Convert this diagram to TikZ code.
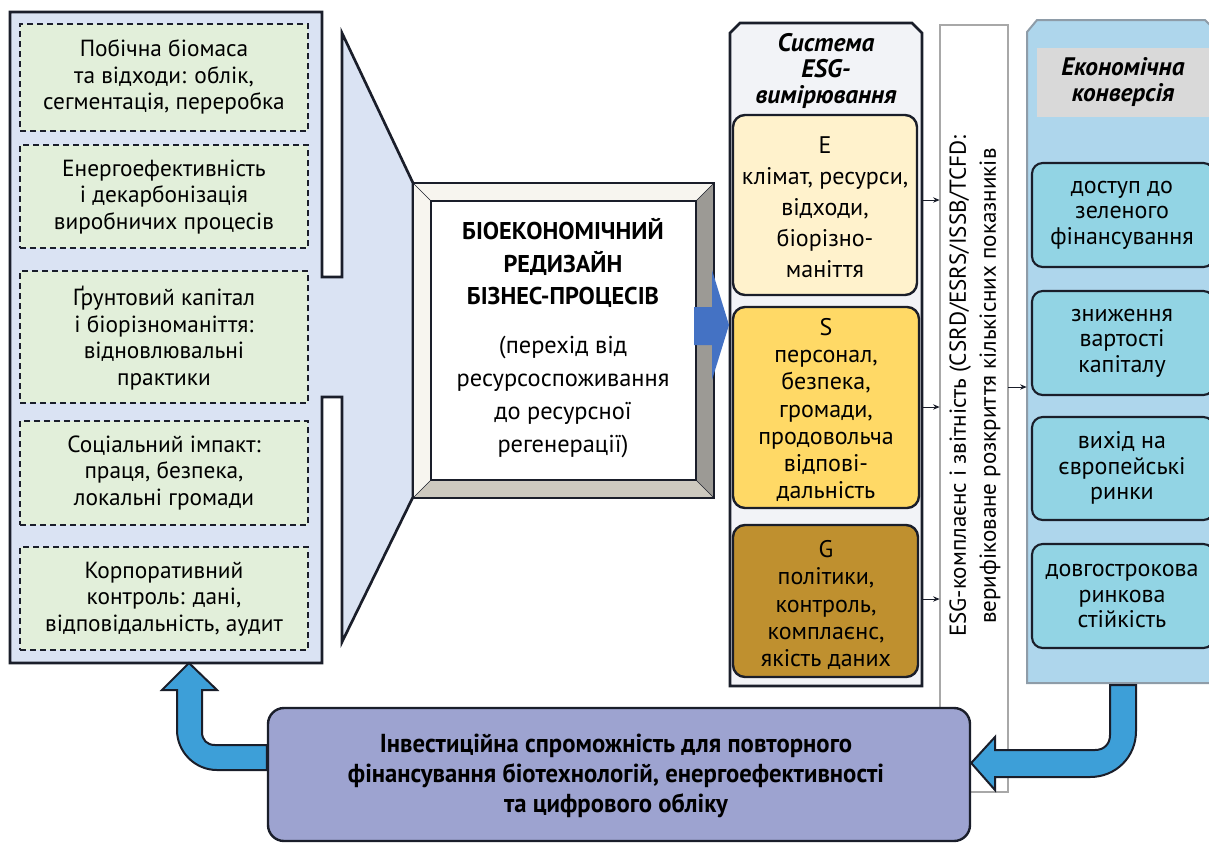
\documentclass[tikz,border=0pt]{standalone}
\usepackage{fontspec}
\setmainfont{PT Sans}
\newfontfamily\condfont[FakeStretch=0.95]{PT Sans}
\usetikzlibrary{fit,arrows.meta}
\definecolor{ink}{HTML}{1A1E2A}
\definecolor{panelblue}{HTML}{DAE3F3}
\definecolor{dgreen}{HTML}{E2EFDA}
\definecolor{Ecol}{HTML}{FFF2CC}
\definecolor{Scol}{HTML}{FFD966}
\definecolor{Gcol}{HTML}{BF902F}
\definecolor{esgbg}{HTML}{F2F3F7}
\definecolor{rightbg}{HTML}{AED6EC}
\definecolor{cyanbox}{HTML}{92D4E4}
\definecolor{greybox}{HTML}{D9D9D9}
\definecolor{bottomcol}{HTML}{9DA3D0}
\definecolor{arrowblue}{HTML}{3D9FD8}
\definecolor{coreblue}{HTML}{4472C4}
\definecolor{bevtop}{HTML}{F7F5EF}
\definecolor{bevright}{HTML}{9C9A95}
\definecolor{bevbottom}{HTML}{CDC9BF}
\definecolor{stripgray}{HTML}{A8A8A8}
\definecolor{rgray}{HTML}{8E9CA8}
\tikzset{
  frame/.style={draw=ink, line width=2pt},
  dbox/.style={draw=ink, dash pattern=on 4.5pt off 3pt, line width=1.4pt, fill=dgreen, inner sep=0},
  ebox/.style={draw=ink, line width=1.8pt, rounded corners=9pt, inner sep=0},
  cbox/.style={draw=ink, line width=1.6pt, rounded corners=8pt, fill=cyanbox, inner sep=0},
  ltxt/.style={align=center, inner sep=0, font=\fontsize{17.5}{20}\selectfont},
  etxt/.style={align=center, inner sep=0, font=\fontsize{18}{23.3}\selectfont},
  stxt/.style={align=center, inner sep=0, font=\fontsize{18}{20.3}\selectfont},
  rtxt/.style={align=center, inner sep=0, font=\fontsize{18}{19}\selectfont},
  ttl/.style={align=center, inner sep=0, font=\fontsize{19}{19.5}\selectfont\bfseries\itshape},
  smallarr/.style={-{Stealth[length=5pt,width=4pt]}, line width=0.7pt, draw=ink},
  blockarr/.style={draw=ink, line width=1.5pt, fill=arrowblue, line join=miter},
}
\begin{document}
\begin{tikzpicture}[x=0.75pt,y=-0.75pt]
\useasboundingbox (0,0) rectangle (1209,843);

% ---- left panel with funnel
\draw[frame, fill=panelblue, line join=miter] (10,12) -- (322,12) -- (322,277) -- (342,277) -- (342,33) -- (413,183) -- (413,497) -- (342,642) -- (342,397) -- (322,397) -- (322,663) -- (10,663) -- cycle;
\node[fit={(10,12)(322,663)}, inner sep=0] (left) {};

\node[dbox, fit={(20,24)(308,131)}] (b1) {};
\node[dbox, fit={(20,145)(308,248)}] (b2) {};
\node[dbox, fit={(20,271)(308,403)}] (b3) {};
\node[dbox, fit={(20,421)(308,525)}] (b4) {};
\node[dbox, fit={(20,547)(308,650)}] (b5) {};
\node[ltxt] (t1) at (164,77) {Побічна біомаса\\та відходи: облік,\\сегментація, переробка};
\node[ltxt] (t2) at (164,197) {Енергоефективність\\і декарбонізація\\виробничих процесів};
\node[ltxt] (t3) at (164,338) {Ґрунтовий капітал\\і біорізноманіття:\\відновлювальні\\практики};
\node[ltxt] (t4) at (164,473) {Соціальний імпакт:\\праця, безпека,\\локальні громади};
\node[ltxt] (t5) at (164,599) {Корпоративний\\контроль: дані,\\відповідальність, аудит};

% ---- central bevel box
\fill[bevtop] (413,183) -- (714,183) -- (696,201) -- (431,201) -- cycle;
\fill[bevtop] (413,183) -- (431,201) -- (431,480) -- (413,498) -- cycle;
\fill[bevright] (714,183) -- (714,498) -- (696,480) -- (696,201) -- cycle;
\fill[bevbottom] (413,498) -- (714,498) -- (696,480) -- (431,480) -- cycle;
\fill[white] (431,201) rectangle (696,480);
\draw[ink, line width=0.5pt] (413,183) -- (431,201) (714,183) -- (696,201) (413,498) -- (431,480) (714,498) -- (696,480);
\draw[ink, line width=1.2pt] (431,201) rectangle (696,480);
\draw[ink, line width=1.6pt] (413,183) rectangle (714,498);
\node[fit={(413,183)(714,498)}, inner sep=0] (core) {};
\node[align=center, inner sep=0, font=\fontsize{18.2}{24.5}\selectfont\bfseries] (coreT) at (563,263) {БІОЕКОНОМІЧНИЙ\\РЕДИЗАЙН\\БІЗНЕС-ПРОЦЕСІВ};
\node[align=center, inner sep=0, font=\fontsize{18.3}{24.8}\selectfont] (coreS) at (563,397) {(перехід від\\ресурсоспоживання\\до ресурсної\\регенерації)};

% ---- compliance strip
\draw[draw=stripgray, line width=1.2pt, fill=white] (940,25) rectangle (1008,792);
\node[fit={(940,25)(1008,792)}, inner sep=0] (strip) {};
\node[rotate=90, align=center, inner sep=0, font=\fontsize{17.3}{22.5}\selectfont] (stripT) at (975,386) {ESG-комплаєнс і звітність (CSRD/ESRS/ISSB/TCFD:\\верифіковане розкриття кількісних показників};

% ---- ESG column
\draw[frame, fill=esgbg, line join=miter] (730,33) -- (740,23) -- (912,23) -- (922,33) -- (922,686) -- (730,686) -- cycle;
\node[fit={(730,23)(922,686)}, inner sep=0] (esg) {};
\node[ttl] (esgT) at (826,71) {Система\\ESG-\\вимірювання};
\node[ebox, fill=Ecol, fit={(733,115)(917,295)}] (E) {};
\node[ebox, fill=Scol, fit={(733,307)(919,508)}] (S) {};
\node[ebox, fill=Gcol, fit={(733,525)(918,677)}] (G) {};
\node[etxt] (Et) at (825,207) {E\\клімат, ресурси,\\відходи,\\біорізно-\\маніття};
\node[stxt] (St) at (826,410) {S\\персонал,\\безпека,\\громади,\\продовольча\\відпові-\\дальність};
\node[stxt] (Gt) at (826,605) {G\\політики,\\контроль,\\комплаєнс,\\якість даних};

% ---- central block arrow
\fill[coreblue] (694,307) -- (712,307) -- (712,270) -- (729,325) -- (712,380) -- (712,345) -- (694,345) -- cycle;
\coordinate (coreArr) at (729,325);

% ---- right column
\draw[draw=rgray, line width=1.5pt, fill=rightbg, line join=miter] (1027,32) -- (1037,20) -- (1205,20) -- (1215,30) -- (1215,683) -- (1027,683) -- cycle;
\node[fit={(1027,20)(1215,683)}, inner sep=0] (econ) {};
\fill[greybox] (1037,48) rectangle (1215,117);
\node[ttl] (econT) at (1123,82) {Економічна\\конверсія};
\node[cbox, fit={(1032,163)(1214,267)}] (c1) {};
\node[cbox, fit={(1032,291)(1214,395)}] (c2) {};
\node[cbox, fit={(1032,417)(1214,520)}] (c3) {};
\node[cbox, fit={(1032,544)(1214,648)}] (c4) {};
\node[rtxt] (c1t) at (1122,215) {доступ до\\зеленого\\фінансування};
\node[rtxt] (c2t) at (1122,343) {зниження\\вартості\\капіталу};
\node[rtxt] (c3t) at (1122,468) {вихід на\\європейські\\ринки};
\node[rtxt] (c4t) at (1122,596) {довгострокова\\ринкова\\стійкість};

% ---- small connectors
\coordinate (eA) at (922,200);
\coordinate (sA) at (922,407);
\coordinate (gA) at (922,599);
\draw[smallarr] (eA) -- (strip.west |- eA);
\draw[smallarr] (sA) -- (strip.west |- sA);
\draw[smallarr] (gA) -- (strip.west |- gA);
\coordinate (stA) at (1008,387);
\draw[smallarr] (stA) -- (econ.west |- stA);

% ---- bottom box
\node[draw=ink, line width=1.8pt, rounded corners=12pt, fill=bottomcol, fit={(268,708)(970,841)}, inner sep=0] (bottom) {};
\node[align=center, inner sep=0, font=\fontsize{19.5}{22.5}\selectfont\condfont\bfseries] (bottomT) at (616,776) {Інвестиційна спроможність для повторного\\фінансування біотехнологій, енергоефективності\\та цифрового обліку};

% ---- U arrows
\draw[blockarr] (bottom.west |- 0,745) -- (215,745) .. controls (207,745) and (202,740) .. (202,732) -- (202,690) -- (217,690) -- (189,663) -- (162,690) -- (177,690) -- (177,730) .. controls (177,752) and (195,770) .. (217,770) -- (bottom.west |- 0,770) -- cycle;
\draw[blockarr] (1110,685) -- (1110,735) .. controls (1110,744) and (1104,750) .. (1095,750) -- (995,750) -- (995,737) -- (bottom.east |- 0,763) -- (995,790) -- (995,777) -- (1090,777) .. controls (1116,777) and (1136,757) .. (1136,731) -- (1136,685) -- cycle;
\end{tikzpicture}
\end{document}
